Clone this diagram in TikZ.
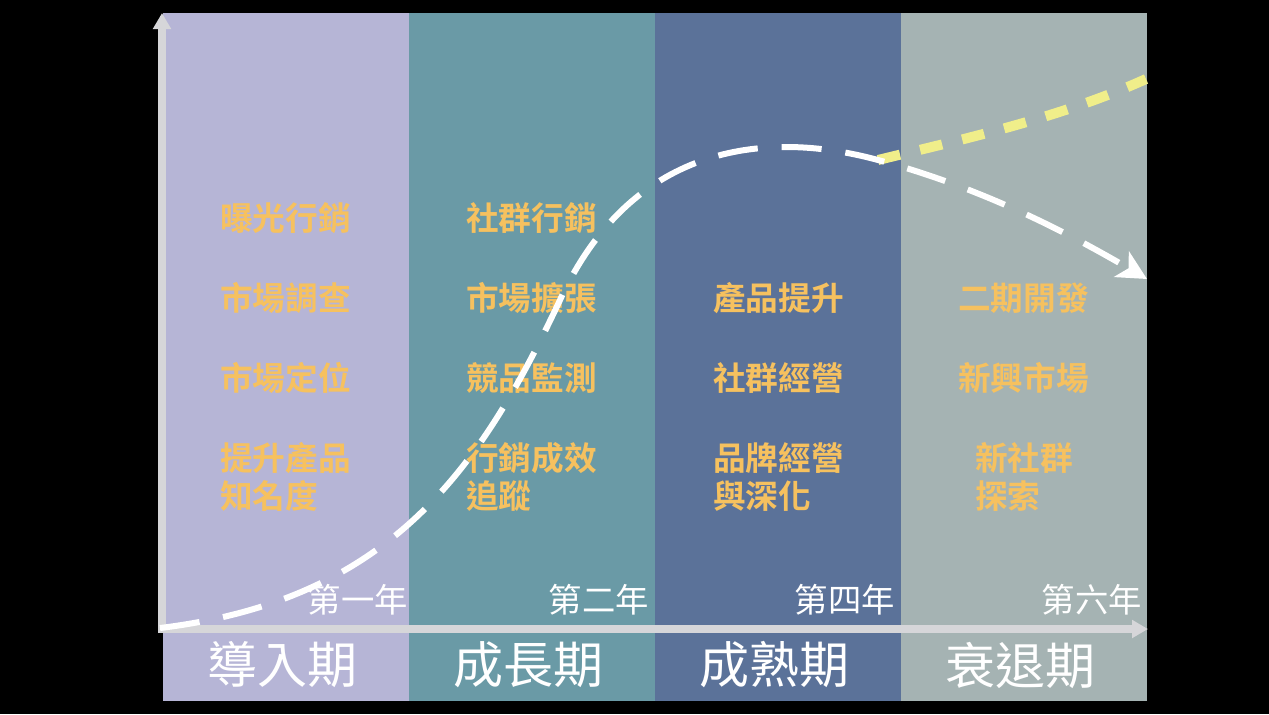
\documentclass[tikz,border=0pt]{standalone}
\usepackage{fontspec}
\newfontfamily\cjk{Noto Sans CJK TC}
\newfontfamily\cjkb{Noto Sans CJK TC Bold}
\usetikzlibrary{arrows.meta}
\definecolor{bgA}{HTML}{B6B5D6}
\definecolor{bgB}{HTML}{6A9AA6}
\definecolor{bgC}{HTML}{5B7299}
\definecolor{bgD}{HTML}{A5B3B3}
\definecolor{axisc}{HTML}{D6D6D9}
\definecolor{orangetxt}{HTML}{F6C15F}
\definecolor{yellowc}{HTML}{F0EE8A}
\tikzset{
  item/.style={anchor=west, text=orangetxt, font=\cjkb\fontsize{24.5}{29}\selectfont, inner sep=0pt, align=left},
  year/.style={anchor=east, text=white, font=\cjk\fontsize{25}{28}\selectfont, inner sep=0pt},
  phase/.style={anchor=center, text=white, font=\cjk\fontsize{37.5}{40}\selectfont, inner sep=0pt},
  axisline/.style={draw=axisc, line width=6pt, -{Triangle[length=12pt,width=13pt]}},
}
\begin{document}
\begin{tikzpicture}[x=0.75pt,y=-0.75pt]
\useasboundingbox (0,0) rectangle (1269,714);
\fill[black] (0,0) rectangle (1269,714);
% panels
\fill[bgA] (163,13) rectangle (409,701);
\fill[bgB] (409,13) rectangle (655,701);
\fill[bgC] (655,13) rectangle (901,701);
\fill[bgD] (901,13) rectangle (1147,701);
% axes
\coordinate (ytop) at (162,13);
\coordinate (xend) at (1148,629);
\draw[axisline] (162,633) -- (ytop);
\draw[axisline] (158,629) -- (xend);
% items column 1
\node[item] (a1) at (220,218) {曝光行銷};
\node[item] (a2) at (220,298) {市場調查};
\node[item] (a3) at (220,378) {市場定位};
\node[item] (a4) at (220,477) {提升產品\\知名度};
% column 2
\node[item] (b1) at (466,218) {社群行銷};
\node[item] (b2) at (466,298) {市場擴張};
\node[item] (b3) at (466,378) {競品監測};
\node[item] (b4) at (466,477) {行銷成效\\追蹤};
% column 3
\node[item] (c2) at (713,298) {產品提升};
\node[item] (c3) at (713,378) {社群經營};
\node[item] (c4) at (713,477) {品牌經營\\與深化};
% column 4
\node[item] (d2) at (958,298) {二期開發};
\node[item] (d3) at (958,378) {新興市場};
\node[item] (d4) at (975,477) {新社群\\探索};
% years
\node[year] (y1) at (408,600) {第一年};
\node[year] (y2) at (649,600) {第二年};
\node[year] (y4) at (895,600) {第四年};
\node[year] (y6) at (1142,600) {第六年};
% phases
\node[phase] (p1) at (282,665) {導入期};
\node[phase] (p2) at (528,665) {成長期};
\node[phase] (p3) at (774,665) {成熟期};
\node[phase] (p4) at (1020,665) {衰退期};
% curves
\coordinate (cs) at (160,628);
\coordinate (cm) at (560,300);
\coordinate (cp) at (878,160);
\coordinate (ce) at (1147,279);
\coordinate (ye) at (1146,79);
\draw[yellowc, line width=7.5pt, dash pattern=on 17pt off 15.5pt] (cp) .. controls (960,140) and (1060,118) .. (ye);
\draw[white, line width=4.5pt, dash pattern=on 30pt off 18pt, -{Stealth[length=22pt,width=22pt,inset=6pt]}]
  (cs) .. controls (390,600) and (480,470) .. (cm)
       .. controls (630,148) and (760,128) .. (cp)
       .. controls (990,190) and (1080,240) .. (ce);
\end{tikzpicture}
\end{document}
